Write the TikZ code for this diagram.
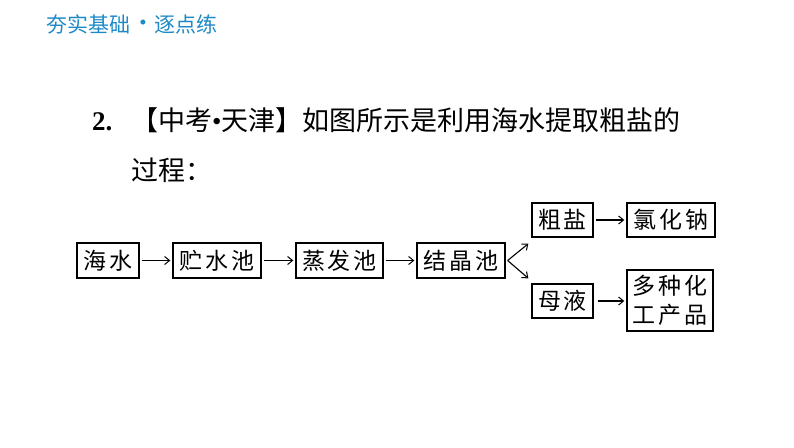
\documentclass[tikz,border=0pt]{standalone}
\usepackage{fontspec}
\setmainfont{Liberation Serif}
\newfontfamily\cjk{Noto Sans CJK SC}
\usetikzlibrary{arrows.meta,calc}
\definecolor{hdblue}{RGB}{30,138,200}
\newcommand{\gp}{\hspace{3pt}}
\begin{document}
\begin{tikzpicture}[x=1pt,y=-1pt,
  box/.style={draw,line width=1.3pt,inner sep=0pt,align=center,font=\cjk\fontsize{23}{29}\selectfont},
  flow/.style={line width=1.1pt,-{Straight Barb[length=5pt,width=8pt,line width=1pt]},shorten <=2pt,shorten >=2pt},
  hd/.style={text=hdblue,inner sep=0pt,anchor=base west,font=\cjk\fontsize{21}{21}\selectfont},
  ttl/.style={inner sep=0pt,anchor=base west,font=\cjk\fontsize{27}{27}\selectfont}]
\useasboundingbox[fill=white] (0,0) rectangle (794,447);
% header
\node[hd] (h1) at (46,32) {夯实基础};
\node[hd,anchor=center,font=\rmfamily\fontsize{21}{21}\selectfont] (h2) at (143,25) {•};
\node[hd] (h3) at (154,32) {逐点练};
% question
\node[ttl,font=\bfseries\fontsize{27}{27}\selectfont] (q2) at (92,130) {2.};
\node[ttl] (q) at (131,130) {【中考{\rmfamily •}天津】如图所示是利用海水提取粗盐的};
\node[ttl] (q3) at (131,180) {过程：};
% boxes
\node[box,minimum width=62pt,minimum height=35pt] (hs) at (108,260.5) {海\gp 水};
\node[box,minimum width=88pt,minimum height=35pt] (zsc) at (217,260.5) {贮\gp 水\gp 池};
\node[box,minimum width=87pt,minimum height=35pt] (zfc) at (339.5,260.5) {蒸\gp 发\gp 池};
\node[box,minimum width=88pt,minimum height=35pt] (jjc) at (461,260.5) {结\gp 晶\gp 池};
\node[box,minimum width=61pt,minimum height=34pt] (cy) at (562.5,220) {粗\gp 盐};
\node[box,minimum width=88pt,minimum height=34pt] (lhn) at (671,220) {氯\gp 化\gp 钠};
\node[box,minimum width=61pt,minimum height=34pt] (my) at (562.5,301) {母\gp 液};
\node[box,minimum width=86pt,minimum height=61pt] (dz) at (670,300.5) {多\gp 种\gp 化\\工\gp 产\gp 品};
% arrows
\draw[flow] (hs) -- (zsc);
\draw[flow] (zsc) -- (zfc);
\draw[flow] (zfc) -- (jjc);
\draw[flow] (cy) -- (lhn);
\draw[flow,shorten <=4pt] (my.east) -- (my.east -| dz.west);
\coordinate (br) at ($(jjc.east)+(2,0)$);
\coordinate (bt) at ($(cy.south west)+(-3,6)$);
\coordinate (bb) at ($(my.north west)+(-3,-5)$);
\draw[flow,shorten <=0pt,shorten >=0pt] (br) -- (bt);
\draw[flow,shorten <=0pt,shorten >=0pt] (br) -- (bb);
\end{tikzpicture}
\end{document}
